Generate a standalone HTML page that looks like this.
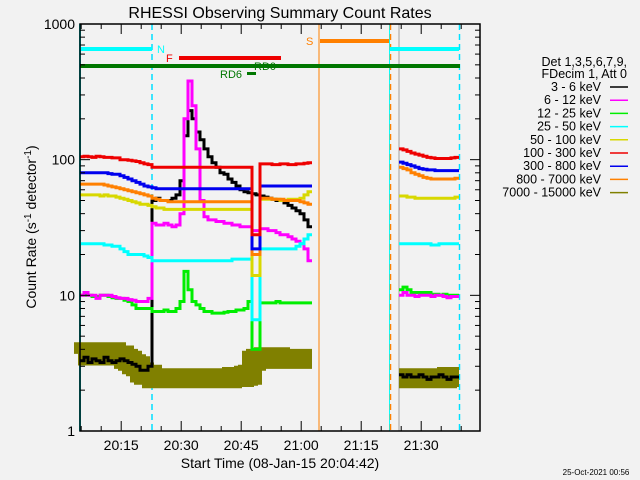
<!DOCTYPE html>
<html><head><meta charset="utf-8"><style>
body{margin:0;background:#f2f2f2;}
svg{display:block;font-family:"Liberation Sans",sans-serif;}
</style></head><body>
<svg id="chart" width="640" height="480">
<rect x="0" y="0" width="640" height="480" fill="#f2f2f2"/>
<text x="280" y="18" font-size="16" text-anchor="middle">RHESSI Observing Summary Count Rates</text>
<text transform="translate(36,227) rotate(-90)" font-size="14" text-anchor="middle">Count Rate (s<tspan baseline-shift="super" font-size="10">-1</tspan> detector<tspan baseline-shift="super" font-size="10">-1</tspan>)</text>
<text x="280" y="468" font-size="14" text-anchor="middle">Start Time (08-Jan-15 20:04:42)</text>
<text x="596" y="475" font-size="8" text-anchor="middle">25-Oct-2021 00:56</text>
<g id="marks"></g>
<g id="axes"></g>
<g id="legend">
<text x="627" y="66" font-size="12.5" text-anchor="end">Det 1,3,5,6,7,9,</text>
<text x="627" y="78" font-size="12.5" text-anchor="end">FDecim 1, Att 0</text>
</g>
</svg>
<script>
const NS='http://www.w3.org/2000/svg';
const labels=['3 - 6 keV','6 - 12 keV','12 - 25 keV','25 - 50 keV','50 - 100 keV','100 - 300 keV','300 - 800 keV','800 - 7000 keV','7000 - 15000 keV'];
const colors=['#000000','#ff00ff','#00ee00','#00ffff','#d8d800','#ee0000','#0000ee','#ff8000','#808000'];
const xTickLabels=['20:15','20:30','20:45','21:00','21:15','21:30'];
const xTickMinutes=[10.3,25.3,40.3,55.3,70.3,85.3];
const yTickLabels=['1','10','100','1000'];
const yTickValues=[1,10,100,1000];
// minutes since 20:04:42, one value per minute; section A t=0..57, section B t=80..94
const tA0=0, tB0=80;
const blackA=[3.3,3.5,3.2,3.4,3.3,3.2,3.5,3.3,3.2,3.3,3.4,3.3,3.2,3.1,3.0,2.8,2.8,3.0,50,52,50,50,50,52,55,70,150,230,200,160,140,120,105,95,88,80,78,72,68,64,60,58,57,56,55,54,53,52,51,50,50,48,46,44,42,40,36,32];
const magentaA=[10,10.5,10,10,9.5,10,10,10,9.8,9.6,9.5,9.5,9.3,9.2,9.0,9.0,9.0,9.5,34,33,33,34,33,32,33,40,200,380,250,120,50,38,36,36,35,35,34,34,33,33,32,32,32,30,30,31,31,30,30,29,28,28,27,26,25,24,22,18];
const greenA=[10,10,10,9.8,9.8,10,10,9.8,9.6,9.5,9.5,9.2,9.0,8.5,8.0,8.0,8.0,8.0,7.6,7.6,7.6,7.8,7.6,7.6,8.0,9,15,11,9,8.5,8,7.6,7.6,7.4,7.4,7.4,7.5,7.6,7.6,7.8,7.8,8.0,9.0,4.0,4.0,8.8,8.8,8.8,8.8,9.0,8.8,8.8,8.8,8.8,8.8,8.8,8.8,8.8];
const cyanA=[24,24,24,24,24,24,23.5,23.5,23,23,22,21,20,20,20,20,19.5,19,18,18,18,18,18,18,18,18,18,18,18,18,18,18,18,18,18,18,18,18,18.5,18.5,18.5,18.5,18.5,6.6,6.6,22,22,22,22,22,22,22,22,22,23,24,26,28];
const yellowA=[55,55,55,55,55,54,55,54,54,53,52,51,50,49,48,47,47,46,45,44,44,43,43,43,43,43,43,43,43,43,43,43,43,43,43,43,43,43,43,43,43,43,43,14,14,51,51,51,51,51,50,50,51,51,51,52,55,58];
const redA=[105,106,105,104,106,105,104,104,103,103,100,100,99,98,97,95,93,92,88,88,88,88,88,88,88,88,88,88,88,88,88,88,88,88,88,88,88,88,88,88,88,88,88,28,28,93,93,93,92,92,93,93,92,92,93,93,94,95];
const blueA=[80,80,80,80,80,80,80,79,78,78,76,74,72,70,68,66,64,63,62,61,61,61,61,61,61,61,61,61,61,61,61,61,61,61,61,61,61,61,61,61,61,61,61,22,22,64,64,64,64,64,64,64,64,64,64,64,64,64];
const orangeA=[66,66,66,66,66,66,65,64,63,62,61,60,59,58,57,56,55,54,52,51,50,50,49,49,49,49,49,49,49,49,49,49,49,49,49,49,49,49,49,49,49,49,49,20,20,52,52,52,51,51,51,50,50,50,50,49,48,47];
const oliveA=[3.7,3.8,3.6,3.8,3.7,3.6,3.8,3.7,3.8,3.6,3.6,3.4,3.3,3.1,3.0,2.7,2.6,2.6,2.45,2.45,2.45,2.45,2.45,2.45,2.45,2.45,2.45,2.45,2.45,2.45,2.45,2.45,2.45,2.45,2.45,2.45,2.45,2.45,2.5,2.5,2.5,2.55,2.6,3.3,3.4,3.4,3.5,3.4,3.4,3.5,3.4,3.4,3.4,3.4,3.4,3.4,3.4,3.4];
const blackB=[2.6,2.5,2.6,2.5,2.5,2.6,2.5,2.4,2.5,2.5,2.6,2.5,2.4,2.5,2.5];
const magentaB=[10,10.5,10,10,9.8,10,10,10,9.8,10,10,9.8,9.6,9.8,9.8];
const greenB=[11,11.5,11,10.5,10.5,10.5,10.5,10.5,10.2,10.2,10,10.2,10,10,10];
const cyanB=[24,24,24,24,24,24,24,24,23.5,23.5,24,24,24,24,24];
const yellowB=[54,54,53,53,52,52,52,52,52,52,52,52,52,52,53];
const redB=[120,118,115,112,110,108,106,104,103,102,102,102,102,103,104];
const blueB=[96,94,92,90,88,86,85,84,84,83,83,83,83,83,83];
const orangeB=[88,86,84,80,78,76,74,73,72,72,72,72,72,72,73];
const oliveB=[2.45,2.45,2.45,2.45,2.45,2.45,2.45,2.45,2.45,2.45,2.45,2.45,2.5,2.5,2.5];
const seriesA=[blackA,magentaA,greenA,cyanA,yellowA,redA,blueA,orangeA,oliveA];
const seriesB=[blackB,magentaB,greenB,cyanB,yellowB,redB,blueB,orangeB,oliveB];
const drawOrder=[8,0,2,1,3,4,7,6,5];
const widths=[3,3,3,3,3,3,3,3,20];

const X0=80,X1=480,YB=431,YT=24,PXMIN=4;
const xs=t=>X0+PXMIN*t;
const ys=v=>YB-(YB-YT)/3*Math.log10(v);
function mk(tag,attrs,parent){const e=document.createElementNS(NS,tag);for(const k in attrs)e.setAttribute(k,attrs[k]);parent.appendChild(e);return e;}
const marks=document.getElementById('marks');
const axes=document.getElementById('axes');
const ev=[
 ['line',{x1:80,y1:24,x2:80,y2:431,stroke:'#00ffff','stroke-width':2},'night-start-line'],
 ['line',{x1:152,y1:24,x2:152,y2:431,stroke:'#00e0ff','stroke-width':1.5,'stroke-dasharray':'6,4'},'night-end-line'],
 ['line',{x1:319,y1:24,x2:319,y2:431,stroke:'#ff8000','stroke-width':1},'saa-start-line'],
 ['line',{x1:389.5,y1:24,x2:389.5,y2:431,stroke:'#00ffff','stroke-width':1},'night2-start-line'],
 ['line',{x1:390.5,y1:24,x2:390.5,y2:431,stroke:'#ff8000','stroke-width':1.5,'stroke-dasharray':'6,4'},'saa-end-line'],
 ['line',{x1:399,y1:24,x2:399,y2:431,stroke:'#a0a0a0','stroke-width':1},'data-resume-line'],
 ['line',{x1:459.5,y1:24,x2:459.5,y2:431,stroke:'#00e0ff','stroke-width':1.5,'stroke-dasharray':'6,4'},'night2-end-line'],
 ['line',{x1:80,y1:49,x2:152,y2:49,stroke:'#00ffff','stroke-width':4},'night-bar'],
 ['line',{x1:390,y1:49,x2:459,y2:49,stroke:'#00ffff','stroke-width':4},'night2-bar'],
 ['line',{x1:179,y1:58,x2:281,y2:58,stroke:'#ee0000','stroke-width':4},'flare-bar'],
 ['line',{x1:80,y1:66,x2:460,y2:66,stroke:'#007700','stroke-width':4},'rd0-bar'],
 ['line',{x1:247,y1:73.5,x2:256,y2:73.5,stroke:'#007700','stroke-width':3},'rd6-bar'],
 ['line',{x1:320,y1:41,x2:389,y2:41,stroke:'#ff8000','stroke-width':4},'saa-bar']
];
for(const [t,a,n] of ev){const e=mk(t,a,marks);

}
const evl=[['N',157,53,'#00ffff'],['F',166,62,'#ee0000'],['RD0',254,70,'#007700'],['RD6',220,78,'#007700'],['S',306,45,'#ff8000']];
for(const [s,x,y,c] of evl){const e=mk('text',{x:x,y:y,'font-size':11,fill:c},marks);e.textContent=s;

}
function stepPath(arr,t0){let d='';arr.forEach((v,i)=>{const x1=xs(t0+i),x2=xs(t0+i+1),y=ys(v);d+=(i===0?'M':'L')+x1.toFixed(1)+','+y.toFixed(1)+'L'+x2.toFixed(1)+','+y.toFixed(1);});return d;}
for(const k of drawOrder){
 const pA=mk('path',{d:stepPath(seriesA[k],tA0),fill:'none',stroke:colors[k],'stroke-width':widths[k]},marks);
 
 
 const pB=mk('path',{d:stepPath(seriesB[k],tB0-0.25),fill:'none',stroke:colors[k],'stroke-width':widths[k]},marks);
 
 
}
const box=mk('rect',{x:X0,y:YT,width:X1-X0,height:YB-YT,fill:'none',stroke:'#000','stroke-width':1.5},axes);


for(let d=0;d<3;d++){for(let m=1;m<10;m++){const v=Math.pow(10,d)*m;const y=ys(v);const L=m===1?10:5;
 const t1=mk('line',{x1:X0,y1:y,x2:X0+L,y2:y,stroke:'#000','stroke-width':1},axes);
 
 
 const t2=mk('line',{x1:X1-L,y1:y,x2:X1,y2:y,stroke:'#000','stroke-width':1},axes);
 
 }}
yTickLabels.forEach((s,i)=>{const e=mk('text',{x:X0-5,y:ys(yTickValues[i])+5,'font-size':14,'text-anchor':'end'},axes);e.textContent=s;
 
 });
for(let t=0.3;t<=100;t+=5){const x=xs(t);if(x>X1)break;const major=xTickMinutes.some(m=>Math.abs(m-t)<0.01);const L=major?10:5;
 const a=mk('line',{x1:x,y1:YB,x2:x,y2:YB-L,stroke:'#000','stroke-width':1},axes);
 
 
 const b=mk('line',{x1:x,y1:YT,x2:x,y2:YT+L,stroke:'#000','stroke-width':1},axes);
 
 }
xTickLabels.forEach((s,i)=>{const e=mk('text',{x:xs(xTickMinutes[i]),y:450,'font-size':14,'text-anchor':'middle'},axes);e.textContent=s;
 
 });
const lg=document.getElementById('legend');
labels.forEach((s,i)=>{const y=87+i*13.2;
 const t=mk('text',{x:601,y:y+4,'font-size':12.5,'text-anchor':'end'},lg);t.textContent=s;
 
 
 const l=mk('line',{x1:610,y1:y,x2:628,y2:y,stroke:colors[i],'stroke-width':1.5},lg);
 
 });
</script>
</body></html>
